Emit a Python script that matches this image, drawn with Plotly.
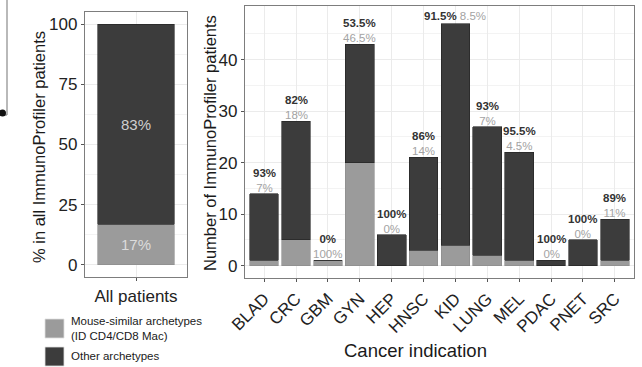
import plotly.graph_objects as go

# Patients per cancer indication, split by archetype group
indications = ["BLAD", "CRC", "GBM", "GYN", "HEP", "HNSC", "KID",
               "LUNG", "MEL", "PDAC", "PNET", "SRC"]
mouse_similar = [1, 5, 1, 20, 0, 3, 4, 2, 1, 0, 0, 1]
other = [13, 23, 0, 23, 6, 18, 43, 25, 21, 1, 5, 8]

# Percent labels printed above each bar (other / mouse-similar)
pct_other = ["93%", "82%", "0%", "53.5%", "100%", "86%", "91.5%",
             "93%", "95.5%", "100%", "100%", "89%"]
pct_mouse = ["7%", "18%", "100%", "46.5%", "0%", "14%", "8.5%",
             "7%", "4.5%", "0%", "0%", "11%"]

left_cat = ["All patients"]
left_ticks = [0, 25, 50, 75, 100]
right_ticks = [0, 10, 20, 30, 40]

GREY = "#9b9b9b"
DARK = "#3c3c3c"
LABEL_GREY = "#a3a3a3"
FONT = "Liberation Sans"
W, H = 642, 367

totals = [m + o for m, o in zip(mouse_similar, other)]
all_total = sum(totals)
share_mouse = round(100 * sum(mouse_similar) / all_total)
share_other = 100 - share_mouse


def px(x):
    return x / W


def py(y):
    return 1 - y / H


fig = go.Figure()

# Overall share panel
fig.add_trace(go.Bar(
    x=left_cat, y=[share_mouse], width=0.9, marker_color=GREY,
    marker_line=dict(color="#8a8a8a", width=0.6),
    text=[f"{share_mouse}%"], textposition="inside", insidetextanchor="middle",
    textfont=dict(family=FONT, size=15, color="#dcdcdc"),
    xaxis="x", yaxis="y", showlegend=False, hoverinfo="skip"))
fig.add_trace(go.Bar(
    x=left_cat, y=[share_other], width=0.9, marker_color=DARK,
    marker_line=dict(color="#222222", width=0.6),
    text=[f"{share_other}%"], textposition="inside", insidetextanchor="middle",
    textfont=dict(family=FONT, size=15, color="#cfcfcf"),
    xaxis="x", yaxis="y", showlegend=False, hoverinfo="skip"))

# Per-indication counts
fig.add_trace(go.Bar(
    x=indications, y=mouse_similar, width=0.9, marker_color=GREY,
    marker_line=dict(color="#8a8a8a", width=0.6),
    xaxis="x2", yaxis="y2", showlegend=False, hoverinfo="skip"))
fig.add_trace(go.Bar(
    x=indications, y=other, width=0.9, marker_color=DARK,
    marker_line=dict(color="#222222", width=0.6),
    xaxis="x2", yaxis="y2", showlegend=False, hoverinfo="skip"))

annotations = []
for cat, tot, po, pm in zip(indications, totals, pct_other, pct_mouse):
    if tot > 45:
        # tallest bar: both shares on one line so they stay inside the panel
        annotations.append(dict(
            x=cat, y=tot, xref="x2", yref="y2", yshift=8, showarrow=False,
            xanchor="center", yanchor="middle",
            text=f"<b>{po}</b> <span style='color:{LABEL_GREY}'>{pm}</span>",
            font=dict(family=FONT, size=11.5, color="#333333")))
    else:
        annotations.append(dict(
            x=cat, y=tot, xref="x2", yref="y2", yshift=-2, showarrow=False,
            xanchor="center", yanchor="bottom",
            text=f"<b>{po}</b><br><span style='color:{LABEL_GREY}'>{pm}</span>",
            font=dict(family=FONT, size=11.5, color="#333333")))

# Axis titles
annotations += [
    dict(x=px(39), y=py(147), xref="paper", yref="paper", showarrow=False,
         xanchor="center", yanchor="middle",
         text="% in all ImmunoProfiler patients", textangle=-90,
         font=dict(family=FONT, size=16.5, color="#1a1a1a")),
    dict(x=px(210), y=py(143), xref="paper", yref="paper", showarrow=False,
         xanchor="center", yanchor="middle",
         text="Number of ImmunoProfiler patients", textangle=-90,
         font=dict(family=FONT, size=16.5, color="#1a1a1a")),
    dict(x=px(415), y=py(350), xref="paper", yref="paper", showarrow=False,
         xanchor="center", yanchor="middle",
         text="Cancer indication",
         font=dict(family=FONT, size=18.5, color="#1a1a1a")),
]

# Legend
legend_items = [("Mouse-similar archetypes<br>(ID CD4/CD8 Mac)", GREY, 319, 328),
                ("Other archetypes", DARK, 347, 356)]
shapes = []
for label, col, top, ymid in legend_items:
    shapes.append(dict(type="rect", xref="paper", yref="paper",
                       x0=px(45), x1=px(64), y0=py(top + 19), y1=py(top),
                       fillcolor=col, line=dict(color="#e0e0e0", width=0.8)))
    annotations.append(dict(x=px(69), y=py(ymid), xref="paper", yref="paper",
                            xanchor="left", yanchor="middle", showarrow=False,
                            align="left", text=label,
                            font=dict(family=FONT, size=11.5, color="#1a1a1a")))

# Edge of the neighbouring panel on the far left
shapes.append(dict(type="line", xref="paper", yref="paper",
                   x0=px(7), x1=px(7), y0=py(115), y1=py(0),
                   line=dict(color="#8a8a8a", width=1.2)))
shapes.append(dict(type="line", xref="paper", yref="paper",
                   x0=px(0), x1=px(7), y0=py(115), y1=py(115),
                   line=dict(color="#8a8a8a", width=1.2)))
shapes.append(dict(type="circle", xref="paper", yref="paper",
                   x0=px(-1), x1=px(6), y0=py(116.5), y1=py(109.5),
                   fillcolor="#111111", line=dict(width=0)))

axis_common = dict(
    showline=True, mirror=True, linecolor="#7d7d7d", linewidth=1.3,
    gridcolor="#ebebeb", gridwidth=1, ticks="outside", ticklen=3,
    tickcolor="#555555", tickwidth=1, zeroline=False, automargin=False,
    tickfont=dict(family=FONT, size=17, color="#222222"),
)

fig.update_layout(
    width=W, height=H, margin=dict(l=0, r=0, t=0, b=0),
    paper_bgcolor="white", plot_bgcolor="white",
    barmode="stack", bargap=0.1,
    annotations=annotations, shapes=shapes,
    xaxis=dict(axis_common, domain=[px(85), px(187)], anchor="y",
               range=[-0.6, 0.6], showgrid=True),
    yaxis=dict(axis_common, domain=[py(277), py(12)], anchor="x",
               range=[-5, 105], tickvals=left_ticks,
               minor=dict(showgrid=True, gridcolor="#f3f3f3", gridwidth=0.6,
                          tickvals=[12.5, 37.5, 62.5, 87.5], ticks="")),
    xaxis2=dict(axis_common, domain=[px(245), px(634)], anchor="y2",
                range=[-0.6, 11.6], showgrid=True, tickangle=-45,
                tickfont=dict(family=FONT, size=17, color="#222222")),
    yaxis2=dict(axis_common, domain=[py(278), py(6)], anchor="x2",
                range=[-2.4, 50.4], tickvals=right_ticks,
                minor=dict(showgrid=True, gridcolor="#f3f3f3", gridwidth=0.6,
                           tickvals=[5, 15, 25, 35, 45], ticks="")),
)

fig.write_html("out.html")
